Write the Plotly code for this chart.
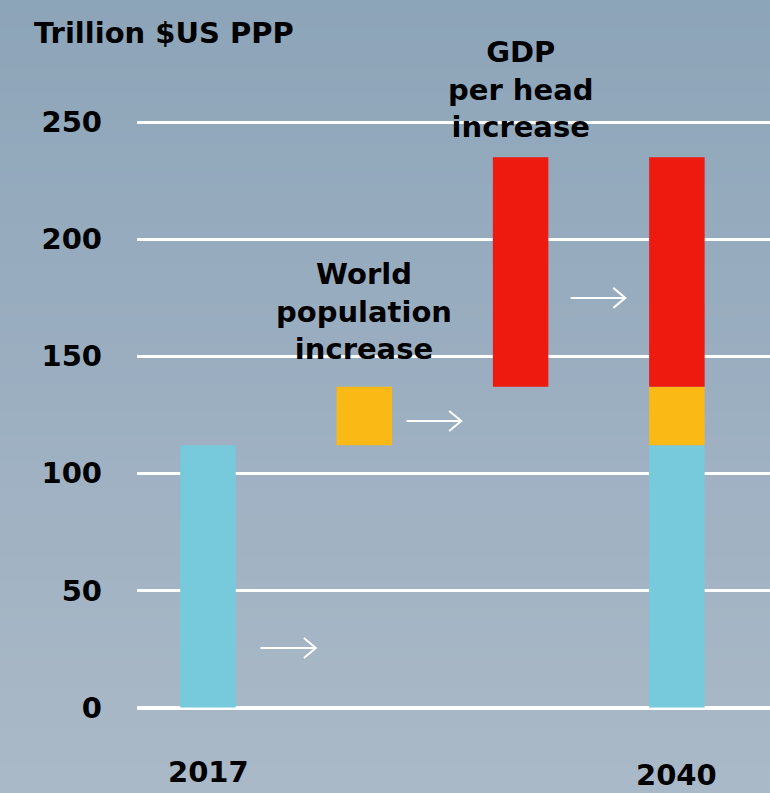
import plotly.graph_objects as go

# ---- data ----
categories = ["2017", "World population increase", "GDP per head increase", "2040"]
gdp_2017 = 112
population_increase = 25
gdp_per_head_increase = 98
y_ticks = [0, 50, 100, 150, 200, 250]

# ---- layout constants ----
W, H = 770, 793
ML, MR, MT, MB = 137, 0, 80, 80
PH = H - MT - MB
FONT = "DejaVu Sans"

def py(p):
    """pixel y -> paper y"""
    return (H - MB - p) / PH

def px(p):
    return (p - ML) / (W - ML - MR)

x_idx = list(range(len(categories)))
BW = 0.355

fig = go.Figure()
# cyan: 2017 level (and base of 2040)
fig.add_bar(x=[x_idx[0], x_idx[3]], y=[gdp_2017, gdp_2017], base=[0, 0],
            width=BW, marker=dict(color="#77CADB", line=dict(width=0)))
# yellow: population increase
fig.add_bar(x=[x_idx[1], x_idx[3]], y=[population_increase] * 2,
            base=[gdp_2017] * 2, width=BW,
            marker=dict(color="#FBB916", line=dict(width=0)))
# red: GDP per head increase
fig.add_bar(x=[x_idx[2], x_idx[3]], y=[gdp_per_head_increase] * 2,
            base=[gdp_2017 + population_increase] * 2, width=BW,
            marker=dict(color="#EE1A10", line=dict(width=0)))

# ---- background gradient ----
top = (0x8D, 0xA5, 0xB9)
mid = (0x9C, 0xAF, 0xC1)
bot = (0xAA, 0xB9, 0xC7)
shapes = []
N = 60
for i in range(N):
    t = i / (N - 1)
    if t < 0.5:
        a, b, u = top, mid, t / 0.5
    else:
        a, b, u = mid, bot, (t - 0.5) / 0.5
    c = tuple(int(round(a[k] + (b[k] - a[k]) * u)) for k in range(3))
    p0 = H * i / N
    p1 = H * (i + 1) / N + 1
    shapes.append(dict(type="rect", xref="paper", yref="paper",
                       x0=px(-5), x1=px(W + 5), y0=py(p1), y1=py(p0),
                       fillcolor="rgb(%d,%d,%d)" % c, line=dict(width=0),
                       layer="below"))

# ---- arrows (decorative) ----
xs = 156.3  # px per category
ys = 2.342  # px per unit
arrows = [(0, 0.335, 0.69, 25.4), (1, 0.27, 0.62, 122.3), (2, 0.32, 0.67, 174.9)]
hx = 12 / xs
hy = 10 / ys
for ci, a0, a1, yv in arrows:
    x0 = x_idx[ci] + a0
    x1 = x_idx[ci] + a1
    path = (f"M {x0},{yv} L {x1},{yv} "
            f"M {x1 - hx},{yv + hy} L {x1},{yv} L {x1 - hx},{yv - hy}")
    shapes.append(dict(type="path", xref="x", yref="y", path=path,
                       line=dict(color="white", width=2), layer="above"))

font_main = dict(family=FONT, size=29, color="black", weight="bold")

annotations = [
    dict(text="Trillion $US PPP", xref="paper", yref="paper",
         x=px(32), y=py(33), xanchor="left", yanchor="middle",
         showarrow=False, font=font_main),
    dict(text="GDP<br>per head<br>increase", xref="x", yref="paper",
         x=x_idx[2], y=py(89), xanchor="center", yanchor="middle",
         showarrow=False, font=font_main),
    dict(text="World<br>population<br>increase", xref="x", yref="paper",
         x=x_idx[1], y=py(311), xanchor="center", yanchor="middle",
         showarrow=False, font=font_main),
    dict(text=categories[0], xref="x", yref="paper",
         x=x_idx[0], y=py(772), xanchor="center", yanchor="middle",
         showarrow=False, font=font_main),
    dict(text=categories[3], xref="x", yref="paper",
         x=x_idx[3], y=py(775), xanchor="center", yanchor="middle",
         showarrow=False, font=font_main),
]

y_lo = (707.5 - (H - MB)) / ys
y_hi = (707.5 - MT) / ys
x_lo = -(208 - ML) / xs
x_hi = x_lo + (W - ML - MR) / xs

fig.update_layout(
    width=W, height=H,
    margin=dict(l=ML, r=MR, t=MT, b=MB, pad=0),
    paper_bgcolor="#9CAFC1",
    plot_bgcolor="rgba(0,0,0,0)",
    barmode="overlay",
    showlegend=False,
    shapes=shapes,
    annotations=annotations,
    xaxis=dict(range=[x_lo, x_hi], showgrid=False, zeroline=False,
               showticklabels=False, showline=False, fixedrange=True),
    yaxis=dict(range=[y_lo, y_hi], tickvals=y_ticks,
               ticktext=[str(v) for v in y_ticks],
               showgrid=True, gridcolor="white", gridwidth=2.6,
               zeroline=True, zerolinecolor="white", zerolinewidth=4,
               showline=False, ticks="", ticklabelstandoff=34,
               tickfont=font_main, fixedrange=True),
)

fig.write_html(
    "out.html",
    config={"displayModeBar": False},
    post_script="document.body.style.margin='0';document.body.style.overflow='hidden';",
)
